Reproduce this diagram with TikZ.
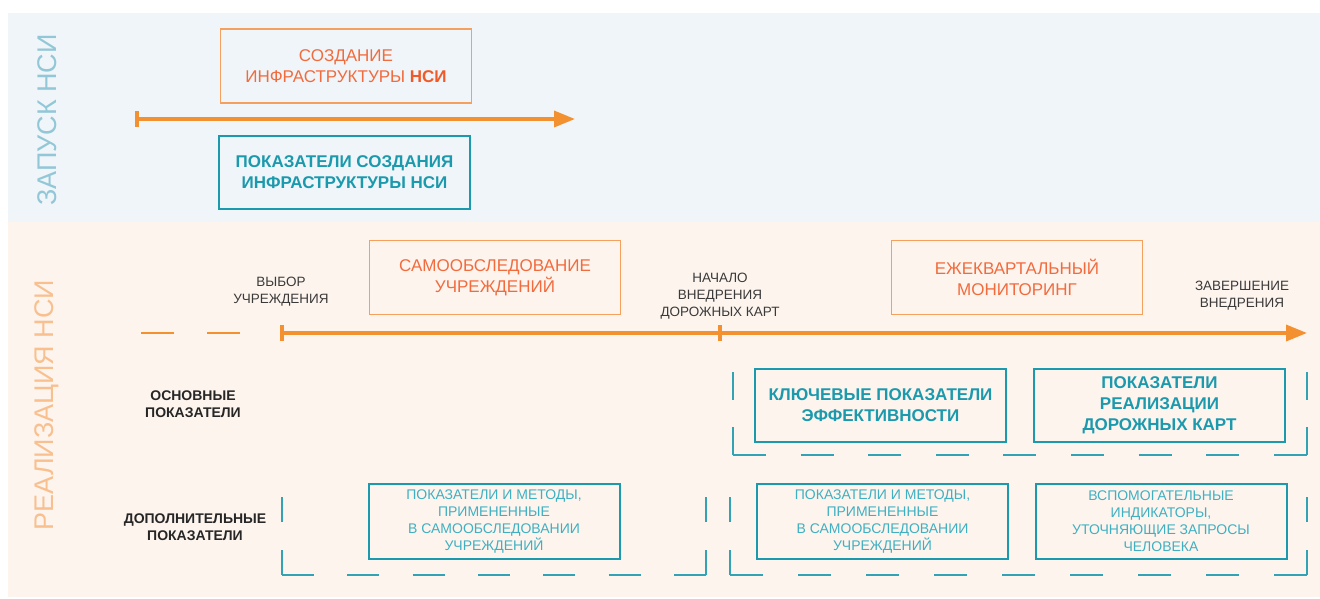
\documentclass[tikz,border=0pt]{standalone}
\usepackage{fontspec}
\setmainfont{Liberation Sans}
\usetikzlibrary{arrows.meta, positioning}

\definecolor{bgblue}{HTML}{EFF5F8}
\definecolor{bgpeach}{HTML}{FDF4EE}
\definecolor{lblblue}{HTML}{92C7D7}
\definecolor{lblpeach}{HTML}{F9C08F}
\definecolor{arrowc}{HTML}{F39131}
\definecolor{boxorange}{HTML}{F5A05C}
\definecolor{txtorange}{HTML}{F26B3D}
\definecolor{deeporange}{HTML}{EF5A28}
\definecolor{tealc}{HTML}{1B99AD}
\definecolor{lteal}{HTML}{3FB0C2}
\definecolor{greytxt}{HTML}{3A3A3A}
\definecolor{darktxt}{HTML}{262626}

\begin{document}
\begin{tikzpicture}[x=1pt,y=-1pt,
  phase/.style={draw=boxorange, line width=1.5pt, text=txtorange, minimum width=251pt, minimum height=74pt, inner sep=0pt, align=center, font=\fontsize{17}{21}\selectfont},
  mainkpi/.style={draw=tealc, line width=2pt, text=tealc, minimum width=251pt, minimum height=73pt, inner sep=0pt, align=center, font=\bfseries\fontsize{17}{21}\selectfont},
  extrakpi/.style={draw=tealc, line width=2pt, text=lteal, minimum width=251pt, minimum height=75pt, inner sep=0pt, align=center, font=\fontsize{14}{17}\selectfont},
  milestone/.style={text=greytxt, align=center, font=\fontsize{13.5}{17}\selectfont},
  rowlabel/.style={text=darktxt, align=center, font=\bfseries\fontsize{14}{17}\selectfont},
  sidelabel/.style={rotate=90, font=\fontsize{27}{27}\selectfont},
  timeline/.style={draw=arrowc, line width=3.5pt, -{Triangle[length=21pt,width=16pt]}},
  tickmark/.style={draw=arrowc, line width=3.5pt},
  lead/.style={draw=arrowc, line width=2pt},
  groupframe/.style={draw=tealc!90!white, line width=2pt}
]
\useasboundingbox (0,0) rectangle (1320,598);

% panels
\fill[bgblue] (8,13) rectangle (1320,222);
\fill[bgpeach] (8,222) rectangle (1320,597);
\node[sidelabel, text=lblblue] (side_1) at (47,120) {ЗАПУСК НСИ};
\node[sidelabel, text=lblpeach] (side_2) at (47,405) {РЕАЛИЗАЦИЯ НСИ};

% launch
\coordinate (t_0) at (137,119);
\coordinate (e_0) at (575,119);
\draw[tickmark] ([yshift=-8pt]t_0) -- ([yshift=8pt]t_0);
\draw[timeline] (t_0) -- (e_0);
\node[phase] (p_0) at (346,66) {СОЗДАНИЕ\\ИНФРАСТРУКТУРЫ \textcolor{deeporange}{\bfseries НСИ}};
\node[mainkpi] (k_0) at (344.5,172) {ПОКАЗАТЕЛИ СОЗДАНИЯ\\ИНФРАСТРУКТУРЫ НСИ};

% implementation timeline
\coordinate (d_1) at (141,333);
\coordinate (d_2) at (174,333);
\coordinate (d_3) at (207,333);
\coordinate (d_4) at (240,333);
\coordinate (t_1) at (282,333);
\coordinate (t_2) at (720,333);
\coordinate (t_3) at (1307,333);
\draw[lead] (d_1) -- (d_2);
\draw[lead] (d_3) -- (d_4);
\draw[timeline] (t_1) -- (t_3);
\draw[tickmark] ([yshift=-8pt]t_1) -- ([yshift=8pt]t_1);
\draw[tickmark] ([yshift=-8pt]t_2) -- ([yshift=8pt]t_2);

\node[milestone] (m_1) at (281,292) {ВЫБОР\\УЧРЕЖДЕНИЯ};
\node[milestone] (m_2) at (720,296) {НАЧАЛО\\ВНЕДРЕНИЯ\\ДОРОЖНЫХ КАРТ};
\node[milestone] (m_3) at (1242,296) {ЗАВЕРШЕНИЕ\\ВНЕДРЕНИЯ};

\node[phase] (p_1) at (495,277.5) {САМООБСЛЕДОВАНИЕ\\УЧРЕЖДЕНИЙ};
\node[phase] (p_2) at (1017,277.5) {ЕЖЕКВАРТАЛЬНЫЙ\\МОНИТОРИНГ};

% indicators
\node[rowlabel] (r_1) at (193,404) {ОСНОВНЫЕ\\ПОКАЗАТЕЛИ};
\node[rowlabel] (r_2) at (195,527) {ДОПОЛНИТЕЛЬНЫЕ\\ПОКАЗАТЕЛИ};

\node[mainkpi] (k_1) at (880.5,405) {КЛЮЧЕВЫЕ ПОКАЗАТЕЛИ\\ЭФФЕКТИВНОСТИ};
\node[mainkpi] (k_2) at (1159.5,405) {ПОКАЗАТЕЛИ\\РЕАЛИЗАЦИИ\\ДОРОЖНЫХ КАРТ};

\node[extrakpi] (x_1) at (494,521.5) {ПОКАЗАТЕЛИ И МЕТОДЫ,\\ПРИМЕНЕННЫЕ\\В САМООБСЛЕДОВАНИИ\\УЧРЕЖДЕНИЙ};
\node[extrakpi] (x_2) at (882.5,521.5) {ПОКАЗАТЕЛИ И МЕТОДЫ,\\ПРИМЕНЕННЫЕ\\В САМООБСЛЕДОВАНИИ\\УЧРЕЖДЕНИЙ};
\node[extrakpi] (x_3) at (1161,521.5) {ВСПОМОГАТЕЛЬНЫЕ\\ИНДИКАТОРЫ,\\УТОЧНЯЮЩИЕ ЗАПРОСЫ\\ЧЕЛОВЕКА};

% dashed group frames
\coordinate (g_1a) at (733,372);
\coordinate (g_1b) at (733,455);
\coordinate (g_1c) at (1307,455);
\coordinate (g_1d) at (1307,372);
\draw[groupframe, dash pattern=on 28pt off 27pt] (g_1a) -- (g_1b);
\draw[groupframe, dash pattern=on 33pt off 34.6pt] (g_1b) -- (g_1c);
\draw[groupframe, dash pattern=on 28pt off 27pt] (g_1d) -- (g_1c);

\coordinate (g_2a) at (282,497);
\coordinate (g_2b) at (282,575);
\coordinate (g_2c) at (706,575);
\coordinate (g_2d) at (706,497);
\draw[groupframe, dash pattern=on 25pt off 28pt] (g_2a) -- (g_2b);
\draw[groupframe, dash pattern=on 32pt off 33.3pt] (g_2b) -- (g_2c);
\draw[groupframe, dash pattern=on 25pt off 28pt] (g_2d) -- (g_2c);

\coordinate (g_3a) at (730,497);
\coordinate (g_3b) at (730,575);
\coordinate (g_3c) at (1307,575);
\coordinate (g_3d) at (1307,497);
\draw[groupframe, dash pattern=on 25pt off 28pt] (g_3a) -- (g_3b);
\draw[groupframe, dash pattern=on 33pt off 35pt] (g_3b) -- (g_3c);
\draw[groupframe, dash pattern=on 25pt off 28pt] (g_3d) -- (g_3c);
\end{tikzpicture}
\end{document}
